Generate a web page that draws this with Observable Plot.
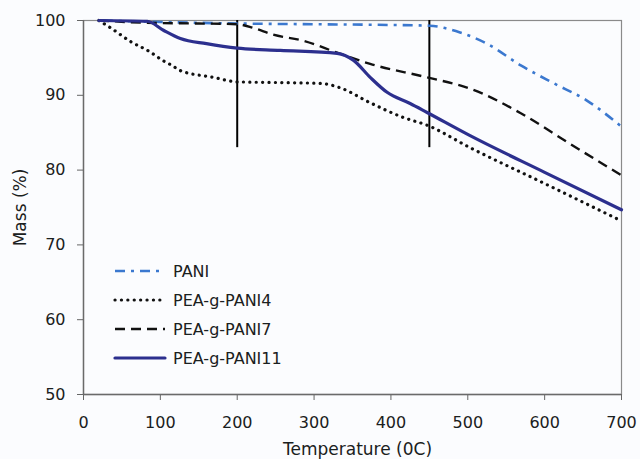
<!DOCTYPE html>
<html><head><meta charset="utf-8">
<script src="https://cdn.jsdelivr.net/npm/d3@7"></script>
<script src="https://cdn.jsdelivr.net/npm/@observablehq/plot@0.6"></script>
<style>
body{margin:0;background:#fbfcfe;}
#chart{width:640px;height:459px;}
</style>
</head><body><div id="chart"></div>
<script>
// ---- data ----
const seriesNames = ["PANI", "PEA-g-PANI4", "PEA-g-PANI7", "PEA-g-PANI11"];

const paniT = [25, 100, 200, 300, 400, 450, 490, 525, 569, 612, 655, 700];
const paniM = [100, 99.8, 99.6, 99.5, 99.4, 99.3, 98.4, 96.9, 94.0, 91.6, 89.3, 85.8];

const pani4T = [20, 37, 61, 85, 104, 115, 126, 169, 200, 256, 308, 334, 373, 417, 447, 503, 600, 700];
const pani4M = [100, 98.9, 97.2, 95.9, 94.6, 94.0, 93.3, 92.4, 91.8, 91.7, 91.6, 91.0, 89.0, 87.0, 86.0, 83.0, 78.2, 73.2];

const pani7T = [20, 80, 150, 200, 221, 247, 286, 330, 373, 447, 503, 569, 630, 700];
const pani7M = [100, 99.7, 99.6, 99.5, 99.0, 98.1, 97.3, 95.7, 94.2, 92.4, 90.9, 87.6, 83.7, 79.3];

const pani11T = [20, 83, 104, 126, 160, 200, 256, 330, 351, 373, 395, 425, 447, 503, 600, 700];
const pani11M = [100, 99.9, 98.7, 97.6, 96.9, 96.3, 96.0, 95.6, 94.7, 92.4, 90.4, 88.9, 87.7, 84.6, 79.7, 74.7];

const markerTemps = [200, 450];
const markerLow = 83;
const markerHigh = 100;

const xTicks = [0, 100, 200, 300, 400, 500, 600, 700];
const yTicks = [50, 60, 70, 80, 90, 100];

const xTitle = "Temperature (0C)";
const yTitle = "Mass (%)";

// ---- styles ----
const styles = {
  "PANI":         {stroke: "#3b78cf", width: 2.6, dash: "10,6,3,6", cap: "butt"},
  "PEA-g-PANI4":  {stroke: "#111111", width: 3.2, dash: "0.1,6.3", cap: "round"},
  "PEA-g-PANI7":  {stroke: "#111111", width: 2.4, dash: "10,6", cap: "butt"},
  "PEA-g-PANI11": {stroke: "#2c2f8e", width: 3.2, dash: null, cap: "round"}
};

const seriesData = [
  [paniT, paniM], [pani4T, pani4M], [pani7T, pani7M], [pani11T, pani11M]
].map(([ts, ms], i) => ts.map((t, j) => ({series: seriesNames[i], T: t, M: ms[j]})));

const font = "'DejaVu Sans', Verdana, sans-serif";
const ink = "#1a2020";

const lineMarks = seriesData.map((d, i) => {
  const s = styles[seriesNames[i]];
  return Plot.line(d, {
    x: "T", y: "M", curve: "monotone-x",
    stroke: s.stroke, strokeWidth: s.width,
    strokeDasharray: s.dash || undefined, strokeLinecap: s.cap, strokeLinejoin: "round"
  });
});

const chart = Plot.plot({
  width: 640,
  height: 459,
  marginLeft: 83,
  marginRight: 19,
  marginTop: 20,
  marginBottom: 65,
  style: {fontFamily: font, fontSize: "16px", color: ink, background: "transparent", overflow: "visible"},
  x: {domain: [0, 700]},
  y: {domain: [50, 100]},
  marks: [
    Plot.frame({stroke: "#8a8a8a", strokeWidth: 1.2}),
    Plot.axisY(yTicks, {tickSize: 6, tickPadding: 12, label: null, stroke: "#666", fontSize: 16}),
    Plot.axisX(xTicks, {tickSize: 6, tickPadding: 16, label: null, stroke: "#666", fontSize: 16}),
    Plot.ruleY([50], {stroke: "#6a6a6a", strokeWidth: 1.4}),
    Plot.ruleX([0], {stroke: "#6a6a6a", strokeWidth: 1.4}),
    Plot.ruleX(markerTemps, {y1: markerLow, y2: markerHigh, stroke: "#000", strokeWidth: 2}),
    ...lineMarks,
    Plot.text([yTitle], {frameAnchor: "left", textAnchor: "middle", lineAnchor: "middle", dx: -63, rotate: -90, fontSize: 17, fill: ink}),
    Plot.text([xTitle], {frameAnchor: "bottom", textAnchor: "middle", lineAnchor: "middle", dx: 5, dy: 55, fontSize: 17, fill: ink})
  ]
});

document.getElementById("chart").appendChild(chart);

// ---- legend inside the plot area ----
const svg = d3.select(chart);
const legend = svg.append("g").attr("font-family", font).attr("font-size", 16)
  .attr("fill", ink).attr("text-anchor", "start");
const legX = 115, legTop = 271, legStep = 29, legLen = 50, textX = 173;
seriesNames.forEach((name, i) => {
  const s = styles[name];
  const y = legTop + i * legStep;
  legend.append("line")
    .attr("x1", legX).attr("x2", legX + legLen).attr("y1", y).attr("y2", y)
    .attr("stroke", s.stroke).attr("stroke-width", s.width)
    .attr("stroke-dasharray", s.dash || null).attr("stroke-linecap", s.cap);
  legend.append("text").attr("x", textX).attr("y", y).attr("dy", "0.35em").text(name);
});
</script>
</body></html>
